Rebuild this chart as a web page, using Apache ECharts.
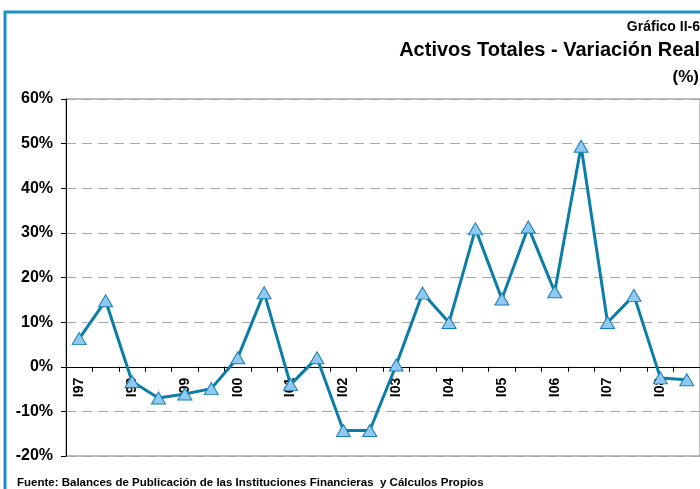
<!DOCTYPE html>
<html><head><meta charset="utf-8">
<script src="https://cdn.jsdelivr.net/npm/echarts@6/dist/echarts.min.js"></script>
<style>html,body{margin:0;padding:0;background:#fff}#c{width:700px;height:489px}</style>
</head><body><div id="c"></div>
<script>
const categories = ['I97','II97','I98','II98','I99','II99','I00','II00','I01','II01','I02','II02','I03','II03','I04','II04','I05','II05','I06','II06','I07','II07','I08','II08'];
const values = [6.3, 14.8, -3.3, -7.0, -6.1, -4.9, 2.0, 16.6, -4.0, 2.0, -14.3, -14.3, 0.4, 16.5, 9.9, 30.9, 15.2, 31.3, 16.8, 49.4, 9.9, 16.0, -2.5, -2.9];
const yTicks = {min: -20, max: 60, interval: 10};
const titleLines = ['Gráfico II-6', 'Activos Totales - Variación Real', '(%)'];
const source = 'Fuente: Balances de Publicación de las Instituciones Financieras  y Cálculos Propios';

const gridTop = 99, gridBottom = 33, H = 489;
const plotH = H - gridTop - gridBottom;
const zeroOffset = plotH * (0 - yTicks.min) / (yTicks.max - yTicks.min);

const chart = echarts.init(document.getElementById('c'), null, {renderer: 'canvas'});
const font = 'Arial, "Liberation Sans", sans-serif';
chart.setOption({
  animation: false,
  backgroundColor: '#fff',
  grid: {left: 66, top: gridTop, right: -1, bottom: gridBottom, show: true, borderColor: '#808080', borderWidth: 1, backgroundColor: 'transparent'},
  xAxis: {
    type: 'category', data: categories, boundaryGap: true, position: 'bottom', offset: -zeroOffset,
    axisLine: {show: true, onZero: false, lineStyle: {color: '#000', width: 1}},
    axisTick: {show: true, interval: 0, length: 5, lineStyle: {color: '#000'}},
    axisLabel: {interval: 1, rotate: 90, margin: 11, fontFamily: font, fontWeight: 'bold', fontSize: 14, color: '#000'},
    splitLine: {show: false}
  },
  yAxis: {
    type: 'value', min: yTicks.min, max: yTicks.max, interval: yTicks.interval,
    axisLine: {show: true, lineStyle: {color: '#000', width: 1}},
    axisTick: {show: true, length: 5, lineStyle: {color: '#000'}},
    axisLabel: {formatter: v => v + '%', margin: 13, fontFamily: font, fontWeight: 'bold', fontSize: 16, color: '#000'},
    splitLine: {show: true, lineStyle: {color: '#a6a6a6', type: [10, 6], width: 1}}
  },
  series: [{
    type: 'line', data: values,
    lineStyle: {color: '#0a7ea6', width: 3},
    symbol: 'triangle', symbolSize: [14, 12],
    itemStyle: {color: '#8fc9f2', borderColor: '#1a7fb0', borderWidth: 1},
    z: 5
  }],
  graphic: [
    {type: 'rect', shape: {x: 5, y: 12, width: 900, height: 700}, style: {fill: 'none', stroke: '#1a90c8', lineWidth: 3}, z: 0},
    {type: 'text', x: 700, y: 27, style: {text: titleLines[0], font: 'bold 14px ' + font, fill: '#000', align: 'right', verticalAlign: 'middle'}},
    {type: 'text', x: 700, y: 50, style: {text: titleLines[1], font: 'bold 20px ' + font, fill: '#000', align: 'right', verticalAlign: 'middle'}},
    {type: 'text', x: 699, y: 77, style: {text: titleLines[2], font: 'bold 17px ' + font, fill: '#000', align: 'right', verticalAlign: 'middle'}},
    {type: 'text', x: 17, y: 483, style: {text: source, font: 'bold 11.5px ' + font, fill: '#000', align: 'left', verticalAlign: 'middle'}}
  ]
});
</script></body></html>
